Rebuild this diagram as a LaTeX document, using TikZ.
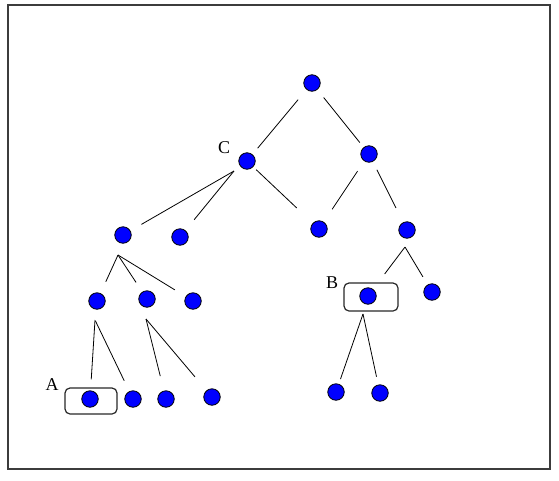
\documentclass[tikz,border=0pt]{standalone}
\usepackage{fontspec}
\setmainfont{Liberation Serif}
\begin{document}
\begin{tikzpicture}[x=1pt,y=-1pt,
  dot/.style={circle,fill={rgb,255:red,0;green,0;blue,255},draw=black,line width=0.8pt,minimum size=16.5pt,inner sep=0pt},
  edge/.style={line width=0.8pt,black},
  lbl/.style={font=\fontsize{18}{20}\selectfont,inner sep=0pt},
  selbox/.style={draw={rgb,255:red,40;green,40;blue,40},line width=1.2pt,rounded corners=5pt,fill=none,inner sep=0pt}]
\useasboundingbox (0,0) rectangle (559,480);
\draw[line width=2pt,draw={rgb,255:red,60;green,60;blue,60}] (8,5) rectangle (550,469);
% nodes
\node[dot] (root) at (312,83) {};
\node[dot] (C) at (247,161) {};
\node[dot] (R) at (369,154) {};
\node[dot] (L1) at (123,235) {};
\node[dot] (L2) at (180,237) {};
\node[dot] (M) at (319,229) {};
\node[dot] (N) at (407,230) {};
\node[dot] (a) at (97,301) {};
\node[dot] (b) at (147,299) {};
\node[dot] (c) at (193,301) {};
\node[dot] (Bn) at (368,296) {};
\node[dot] (g) at (432,292) {};
\node[dot] (An) at (90,399) {};
\node[dot] (d) at (133,399) {};
\node[dot] (e) at (166,399) {};
\node[dot] (f) at (212,397) {};
\node[dot] (h) at (336,392) {};
\node[dot] (i) at (380,393) {};
% boxes
\node[selbox,minimum width=52pt,minimum height=26pt] (boxA) at (91,401) {};
\node[selbox,minimum width=54pt,minimum height=28pt] (boxB) at (371,297) {};
% labels
\node[lbl] (labC) at (224,148) {C};
\node[lbl] (labB) at (332,283) {B};
\node[lbl] (labA) at (52,385) {A};
% apex points where several edges meet
\coordinate (Cap) at ([shift={(-13,10)}]C.center);
\coordinate (L1ap) at ([shift={(-5,20)}]L1.center);
\coordinate (aap) at ([shift={(-2,19)}]a.center);
\coordinate (bap) at ([shift={(-1,20)}]b.center);
\coordinate (Nap) at ([shift={(-2,17)}]N.center);
\coordinate (Bap) at ([shift={(-5,18)}]Bn.center);
% edges
\draw[edge,shorten <=13pt,shorten >=8pt] (root) -- (C);
\draw[edge,shorten <=10pt,shorten >=6pt] (root) -- (R);
\draw[edge,shorten >=12.6pt] (Cap) -- (L1);
\draw[edge,shorten >=13.6pt] (Cap) -- (L2);
\draw[edge,shorten <=4pt,shorten >=22pt] (C) -- (M);
\draw[edge,shorten <=12pt,shorten >=15pt] (R) -- (M);
\draw[edge,shorten <=9pt,shorten >=16pt] (R) -- (N);
\draw[edge,shorten >=12.6pt] (L1ap) -- (a);
\draw[edge,shorten >=11.2pt] (L1ap) -- (b);
\draw[edge,shorten >=12.6pt] (L1ap) -- (c);
\draw[edge,shorten >=11pt] (aap) -- (An);
\draw[edge,shorten <=1pt,shorten >=11.6pt] (aap) -- (d);
\draw[edge,shorten >=15pt] (bap) -- (e);
\draw[edge,shorten >=17.7pt] (bap) -- (f);
\draw[edge,shorten >=19pt] (Nap) -- (Bn);
\draw[edge,shorten >=9pt] (Nap) -- (g);
\draw[edge,shorten >=5pt] (Bap) -- (h);
\draw[edge,shorten >=8pt] (Bap) -- (i);
\end{tikzpicture}
\end{document}
